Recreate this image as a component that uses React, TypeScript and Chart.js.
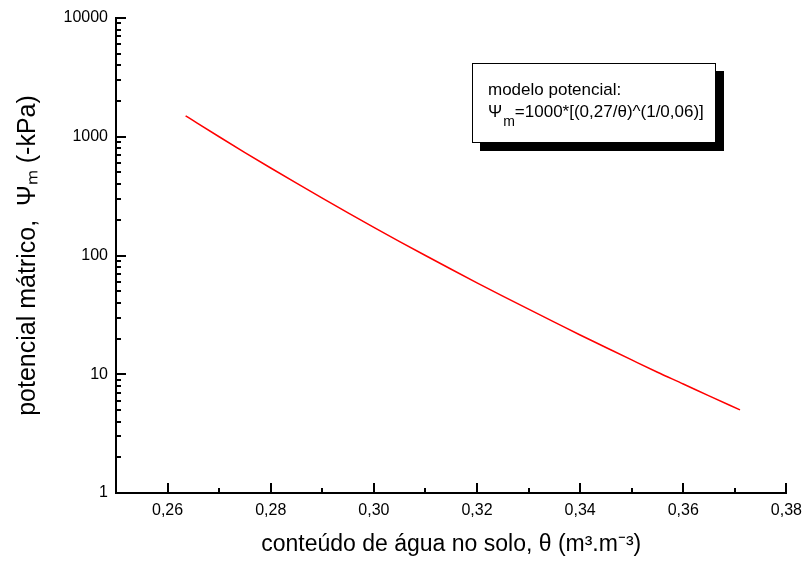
import React, { useEffect, useRef } from "react";
import { Chart, registerables } from "chart.js";
Chart.register(...registerables);

// curve points (θ in m3/m3, Ψm in -kPa)
const thetaValues = [0.2635, 0.265, 0.27, 0.275, 0.28, 0.285, 0.29, 0.295, 0.3, 0.305, 0.31, 0.315, 0.32, 0.325, 0.33, 0.335, 0.34, 0.345, 0.35, 0.355, 0.36, 0.365, 0.371];
const psiValues = [1501, 1366, 1000, 736.5, 545.5, 406.1, 303.9, 228.6, 172.7, 131.1, 100.0, 76.6, 58.9, 45.5, 35.3, 27.5, 21.4, 16.8, 13.2, 10.4, 8.28, 6.57, 5.01];

const xMin = 0.25;
const xMax = 0.38;
const xMajorTicks = [0.26, 0.28, 0.3, 0.32, 0.34, 0.36, 0.38];
const xTickLabels = ["0,26", "0,28", "0,30", "0,32", "0,34", "0,36", "0,38"];
const xMinorTicks = [0.27, 0.29, 0.31, 0.33, 0.35, 0.37];
const yMajorTicks = [1, 10, 100, 1000, 10000];
const yTickLabels = ["1", "10", "100", "1000", "10000"];
const yMinorMultipliers = [2, 3, 4, 5, 6, 7, 8, 9];

const xTitle = "conteúdo de água no solo, θ (m³.m⁻³)";
const yTitle = "potencial mátrico,  Ψₘ (-kPa)";
const noteLine1 = "modelo potencial:";
const noteSymbol = "Ψ";
const noteSub = "m";
const noteRest = "=1000*[(0,27/θ)^(1/0,06)]";

const FONT = "'Liberation Sans', Arial, Helvetica, sans-serif";

const tickPlugin = {
  id: "innerTicks",
  afterDraw(chart: any) {
    const { ctx, chartArea, scales } = chart;
    const xs = scales.x;
    const ys = scales.y;
    ctx.save();
    ctx.strokeStyle = "#000";
    ctx.lineCap = "butt";
    const bottom = chartArea.bottom;
    const left = chartArea.left;
    ctx.lineWidth = 2;
    xMajorTicks.forEach((v) => {
      const px = Math.round(xs.getPixelForValue(v));
      ctx.beginPath();
      ctx.moveTo(px, bottom);
      ctx.lineTo(px, bottom - 10);
      ctx.stroke();
    });
    xMinorTicks.forEach((v) => {
      const px = Math.round(xs.getPixelForValue(v));
      ctx.beginPath();
      ctx.moveTo(px, bottom);
      ctx.lineTo(px, bottom - 5);
      ctx.stroke();
    });
    yMajorTicks.forEach((v, i) => {
      const py = Math.round(ys.getPixelForValue(v));
      ctx.beginPath();
      ctx.moveTo(left, py);
      ctx.lineTo(left + 10, py);
      ctx.stroke();
      if (i < yMajorTicks.length - 1) {
        yMinorMultipliers.forEach((m) => {
          const my = Math.round(ys.getPixelForValue(v * m));
          ctx.beginPath();
          ctx.moveTo(left, my);
          ctx.lineTo(left + 5, my);
          ctx.stroke();
        });
      }
    });

    // annotation box
    const bx = chartArea.left + 356;
    const by = chartArea.top + 45;
    const bw = 244;
    const bh = 80;
    ctx.fillStyle = "#000";
    ctx.fillRect(bx + 8, by + 8, bw, bh);
    ctx.fillStyle = "#fff";
    ctx.fillRect(bx, by, bw, bh);
    ctx.lineWidth = 1;
    ctx.strokeStyle = "#000";
    ctx.strokeRect(bx + 0.5, by + 0.5, bw - 1, bh - 1);
    ctx.fillStyle = "#000";
    ctx.textBaseline = "alphabetic";
    ctx.textAlign = "left";
    ctx.font = `17px ${FONT}`;
    const tx = bx + 16;
    ctx.fillText(noteLine1, tx, by + 32);
    ctx.fillText(noteSymbol, tx, by + 54);
    const w1 = ctx.measureText(noteSymbol).width;
    ctx.font = `14px ${FONT}`;
    ctx.fillText(noteSub, tx + w1 + 1, by + 63);
    const w2 = ctx.measureText(noteSub).width;
    ctx.font = `17px ${FONT}`;
    ctx.fillText(noteRest, tx + w1 + 1 + w2, by + 54);
    ctx.restore();
  },
};

export default function App() {
  const ref = useRef<HTMLCanvasElement | null>(null);
  useEffect(() => {
    document.body.style.margin = "0";
    const canvas = ref.current;
    if (!canvas) return;
    const data = thetaValues.map((t, i) => ({ x: t, y: psiValues[i] }));
    const chart = new Chart(canvas, {
      type: "line",
      data: {
        datasets: [
          {
            data,
            borderColor: "#ff0000",
            borderWidth: 1.5,
            pointRadius: 0,
            fill: false,
            cubicInterpolationMode: "monotone",
          },
        ],
      },
      options: {
        animation: false,
        responsive: false,
        devicePixelRatio: 1,
        layout: { padding: { top: 18, right: 20, left: 0, bottom: 0 } },
        plugins: { legend: { display: false }, tooltip: { enabled: false } },
        scales: {
          x: {
            type: "linear",
            min: xMin,
            max: xMax,
            afterBuildTicks: (scale: any) => {
              scale.ticks = xMajorTicks.map((v) => ({ value: v }));
            },
            afterFit: (scale: any) => {
              scale.height = 75;
            },
            ticks: {
              color: "#000",
              font: { family: FONT, size: 16 },
              padding: 8,
              maxRotation: 0,
              autoSkip: false,
              callback: (value: any) => {
                const i = xMajorTicks.findIndex((v) => Math.abs(v - value) < 1e-6);
                return i >= 0 ? xTickLabels[i] : "";
              },
            },
            grid: { display: true, drawOnChartArea: false, drawTicks: false },
            border: { display: true, color: "#000", width: 2 },
            title: {
              display: true,
              text: xTitle,
              color: "#000",
              font: { family: FONT, size: 23 },
              padding: { top: 0, bottom: 10 },
            },
          },
          y: {
            type: "logarithmic",
            min: 1,
            max: 10000,
            afterBuildTicks: (scale: any) => {
              scale.ticks = yMajorTicks.map((v) => ({ value: v }));
            },
            afterFit: (scale: any) => {
              scale.width = 116;
            },
            ticks: {
              color: "#000",
              font: { family: FONT, size: 16 },
              padding: 8,
              autoSkip: false,
              callback: (value: any) => {
                const i = yMajorTicks.findIndex((v) => Math.abs(v - value) < 1e-6);
                return i >= 0 ? yTickLabels[i] : "";
              },
            },
            grid: { display: true, drawOnChartArea: false, drawTicks: false },
            border: { display: true, color: "#000", width: 2 },
            title: {
              display: true,
              text: yTitle,
              color: "#000",
              font: { family: FONT, size: 25 },
              padding: { top: 13, bottom: 0 },
            },
          },
        },
      },
      plugins: [tickPlugin],
    } as any);
    return () => chart.destroy();
  }, []);
  return (
    <div style={{ width: 810, height: 568, background: "#fff" }}>
      <canvas ref={ref} width={810} height={568} style={{ display: "block" }} />
    </div>
  );
}
